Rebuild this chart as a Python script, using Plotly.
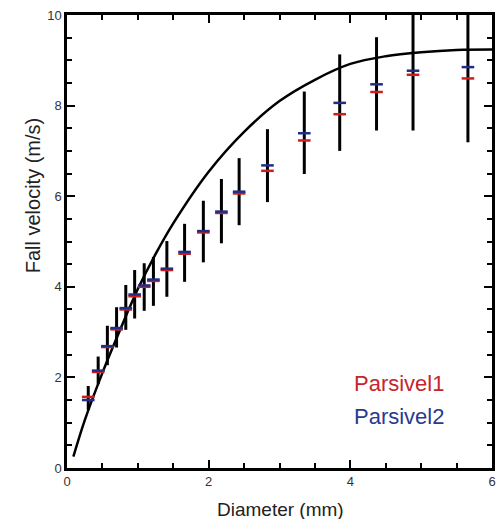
import plotly.graph_objects as go

# Bin diameters (mm) and mean fall velocities (m/s) of the two disdrometers
diameter = [0.30, 0.44, 0.57, 0.70, 0.83, 0.955, 1.09, 1.22, 1.41, 1.66,
            1.925, 2.18, 2.43, 2.83, 3.35, 3.85, 4.37, 4.885, 5.66]
vel_p1 = [1.57, 2.12, 2.67, 3.06, 3.50, 3.79, 4.00, 4.13, 4.37, 4.73,
          5.20, 5.63, 6.06, 6.56, 7.23, 7.81, 8.30, 8.68, 8.60]
vel_p2 = [1.50, 2.15, 2.69, 3.09, 3.53, 3.83, 4.03, 4.16, 4.40, 4.77,
          5.23, 5.66, 6.10, 6.68, 7.39, 8.06, 8.47, 8.77, 8.85]
# Spread of the observed velocities in each bin
spread_low = [1.28, 1.85, 2.27, 2.66, 3.05, 3.30, 3.47, 3.58, 3.78, 4.11,
              4.54, 4.96, 5.36, 5.87, 6.49, 7.00, 7.45, 7.45, 7.19]
spread_high = [1.81, 2.46, 3.14, 3.55, 4.04, 4.37, 4.52, 4.66, 5.01, 5.39,
               5.90, 6.38, 6.84, 7.48, 8.31, 9.13, 9.51, 10.6, 10.9]

# Empirical terminal velocity relation
curve_d = [0.09, 0.25, 0.5, 0.75, 1.0, 1.25, 1.5, 2.0, 2.5, 3.0, 3.5, 4.0,
           4.5, 5.0, 5.5, 6.0]
curve_v = [0.25, 1.05, 2.10, 3.05, 3.95, 4.72, 5.40, 6.54, 7.42, 8.10, 8.57,
           8.92, 9.09, 9.18, 9.23, 9.24]

x_range, y_range = [0, 6], [0, 10]
x_tick_step, x_minor_step = 2, 0.5
y_tick_step, y_minor_step = 2, 0.5
legend_names = ["Parsivel1", "Parsivel2"]
RED = "#d01c1c"
BLUE = "#1f2d86"
INK = "#000000"
TICK_FONT = dict(family="Liberation Sans", size=13, color="#333333")

fig = go.Figure()
fig.add_trace(go.Scatter(x=curve_d, y=curve_v, mode="lines",
                         line_shape="spline", line=dict(color=INK, width=2.5)))

bar_x, bar_y = [], []
for d, lo, hi in zip(diameter, spread_low, spread_high):
    bar_x += [d, d, None]
    bar_y += [lo, hi, None]
fig.add_trace(go.Scatter(x=bar_x, y=bar_y, mode="lines",
                         line=dict(color=INK, width=3)))

fig.add_trace(go.Scatter(x=diameter, y=vel_p1, mode="markers",
                         name=legend_names[0],
                         marker=dict(symbol="line-ew", size=9,
                                     line=dict(color=RED, width=2.5))))
fig.add_trace(go.Scatter(x=diameter, y=vel_p2, mode="markers",
                         name=legend_names[1],
                         marker=dict(symbol="line-ew", size=9,
                                     line=dict(color=BLUE, width=2.5))))

fig.update_xaxes(range=x_range, showline=True, linecolor=INK, linewidth=2.5,
                 ticks="inside", ticklen=8, tickwidth=2, tickcolor=INK,
                 dtick=x_tick_step, mirror="ticks", showgrid=False,
                 zeroline=False, tickfont=TICK_FONT,
                 minor=dict(ticks="inside", dtick=x_minor_step, ticklen=5,
                            tickcolor=INK, tickwidth=2))
fig.update_yaxes(range=y_range, showline=True, linecolor=INK, linewidth=2.5,
                 ticks="inside", ticklen=8, tickwidth=2, tickcolor=INK,
                 dtick=y_tick_step, mirror="ticks", showgrid=False,
                 zeroline=False, tickfont=TICK_FONT,
                 minor=dict(ticks="inside", dtick=y_minor_step, ticklen=5,
                            tickcolor=INK, tickwidth=2))

label_font = dict(family="Liberation Sans", size=19, color="#222222")
fig.add_annotation(text="Diameter (mm)", xref="paper", yref="paper",
                   x=0.5035, y=-0.0927, xanchor="center", yanchor="middle",
                   showarrow=False, font=label_font)
fig.add_annotation(text="Fall velocity (m/s)", xref="paper", yref="paper",
                   x=-0.0793, y=0.6026, xanchor="center", yanchor="middle",
                   textangle=-90, showarrow=False,
                   font=dict(family="Liberation Sans", size=20,
                             color="#222222"))
fig.add_annotation(text=legend_names[0], xref="paper", yref="paper",
                   x=0.671, y=0.187, xanchor="left", yanchor="middle",
                   showarrow=False,
                   font=dict(family="Liberation Sans", size=22,
                             color="#c4262c"))
fig.add_annotation(text=legend_names[1], xref="paper", yref="paper",
                   x=0.671, y=0.113, xanchor="left", yanchor="middle",
                   showarrow=False,
                   font=dict(family="Liberation Sans", size=22,
                             color="#2b3990"))

fig.update_layout(width=504, height=519,
                  margin=dict(l=67, r=8, t=15, b=51),
                  template="simple_white", showlegend=False)
fig.write_html("out.html")
